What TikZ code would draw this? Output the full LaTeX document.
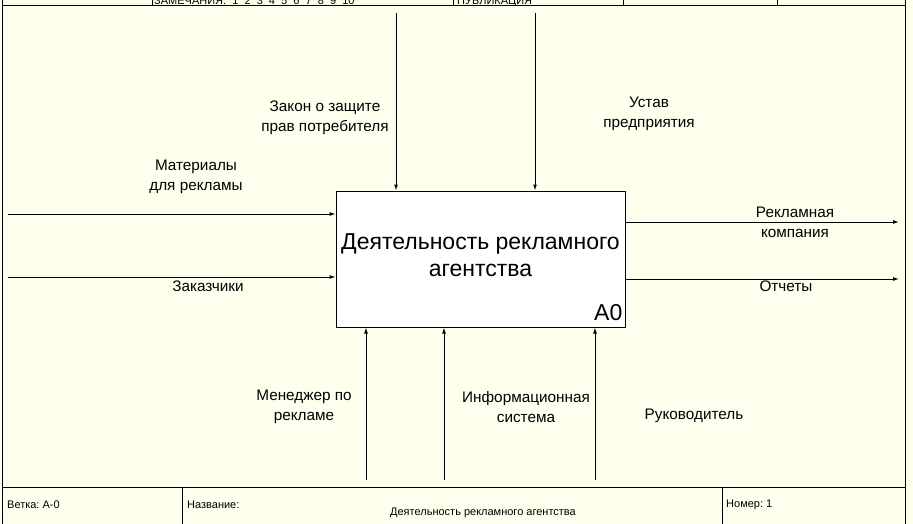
\documentclass[tikz,border=0pt]{standalone}
\usepackage{fontspec}
\setmainfont{Liberation Sans}
\usetikzlibrary{arrows.meta}
\definecolor{paper}{HTML}{FFFFEE}
\begin{document}
\begin{tikzpicture}[x=1pt,y=-1pt,
  frameline/.style={line width=1pt},
  arr/.style={line width=1pt,-{Latex[length=6pt,width=4pt]}},
  lbl/.style={font=\fontsize{15.3}{20}\selectfont, align=center, inner sep=0pt},
  small/.style={font=\fontsize{11}{13}\selectfont, inner sep=0pt},
  funcbox/.style={draw, line width=1pt, fill=white, minimum width=289pt, minimum height=136pt, inner sep=0pt},
  functext/.style={font=\fontsize{23}{27}\selectfont, align=center, inner sep=0pt}]
\useasboundingbox (0,0) rectangle (913,524);
\fill[paper] (0,0) rectangle (913,524);
% frame
\draw[frameline] (2,0) -- (2,524);
\draw[frameline] (905,0) -- (905,524);
\draw[frameline] (2,5.5) -- (905,5.5);
\draw[frameline] (2,487) -- (905,487);
\foreach \x in {152,453,623,777} \draw[frameline] (\x,0) -- (\x,5.5);
\draw[frameline] (182,487) -- (182,524);
\draw[frameline] (722,487) -- (722,524);
% header text (clipped, as in the reference)
\begin{scope}
\clip (0,0) rectangle (913,5);
\node[small, anchor=base west] (hdr1) at (154,4.5) {ЗАМЕЧАНИЯ:\ \ 1\ \ 2\ \ 3\ \ 4\ \ 5\ \ 6\ \ 7\ \ 8\ \ 9\ \ 10};
\node[small, anchor=base west] (hdr2) at (457,4.5) {ПУБЛИКАЦИЯ};
\end{scope}
% footer
\node[small, anchor=west] (vetka) at (7,505) {Ветка:\ А-0};
\node[small, anchor=west] (nazv) at (187,505) {Название:};
\node[small] (title) at (483,513) {Деятельность рекламного агентства};
\node[small, anchor=west] (nomer) at (726,505) {Номер:\ 1};
% function box
\node[funcbox] (func) at (480.5,259) {};
\node[functext] (ftext) at (480.5,255) {Деятельность рекламного\\агентства};
\node[font=\fontsize{23}{26}\selectfont, anchor=south east, inner sep=0pt] (a0) at ([xshift=-3pt,yshift=7pt]func.south east) {A0};
% arrow ends
\coordinate (in1) at (8,214);
\coordinate (in2) at (8,277);
\coordinate (out1) at (899,222);
\coordinate (out2) at (899,279);
\coordinate (c1) at (396,13);
\coordinate (c2) at (535,13);
\coordinate (m1) at (366,480);
\coordinate (m2) at (444,480);
\coordinate (m3) at (595,480);
\draw[arr] (in1) -- (in1 -| func.west);
\draw[arr] (in2) -- (in2 -| func.west);
\draw[arr] (out1 -| func.east) -- (out1);
\draw[arr] (out2 -| func.east) -- (out2);
\draw[arr] (c1) -- (c1 |- func.north);
\draw[arr] (c2) -- (c2 |- func.north);
\draw[arr] (m1) -- (m1 |- func.south);
\draw[arr] (m2) -- (m2 |- func.south);
\draw[arr] (m3) -- (m3 |- func.south);
% labels
\node[lbl] (lc1) at (325,118) {Закон о защите\\прав потребителя};
\node[lbl] (lc2) at (649,114) {Устав\\предприятия};
\node[lbl] (li1) at (196,177) {Материалы\\для рекламы};
\node[lbl] (li2) at (208,286) {Заказчики};
\node[lbl] (lo1) at (795,222) {Рекламная\\компания};
\node[lbl] (lo2) at (786,286) {Отчеты};
\node[lbl] (lm1) at (304,407) {Менеджер по\\рекламе};
\node[lbl] (lm2) at (526,407) {Информационная\\система};
\node[lbl] (lm3) at (694,416) {Руководитель};
\end{tikzpicture}
\end{document}
